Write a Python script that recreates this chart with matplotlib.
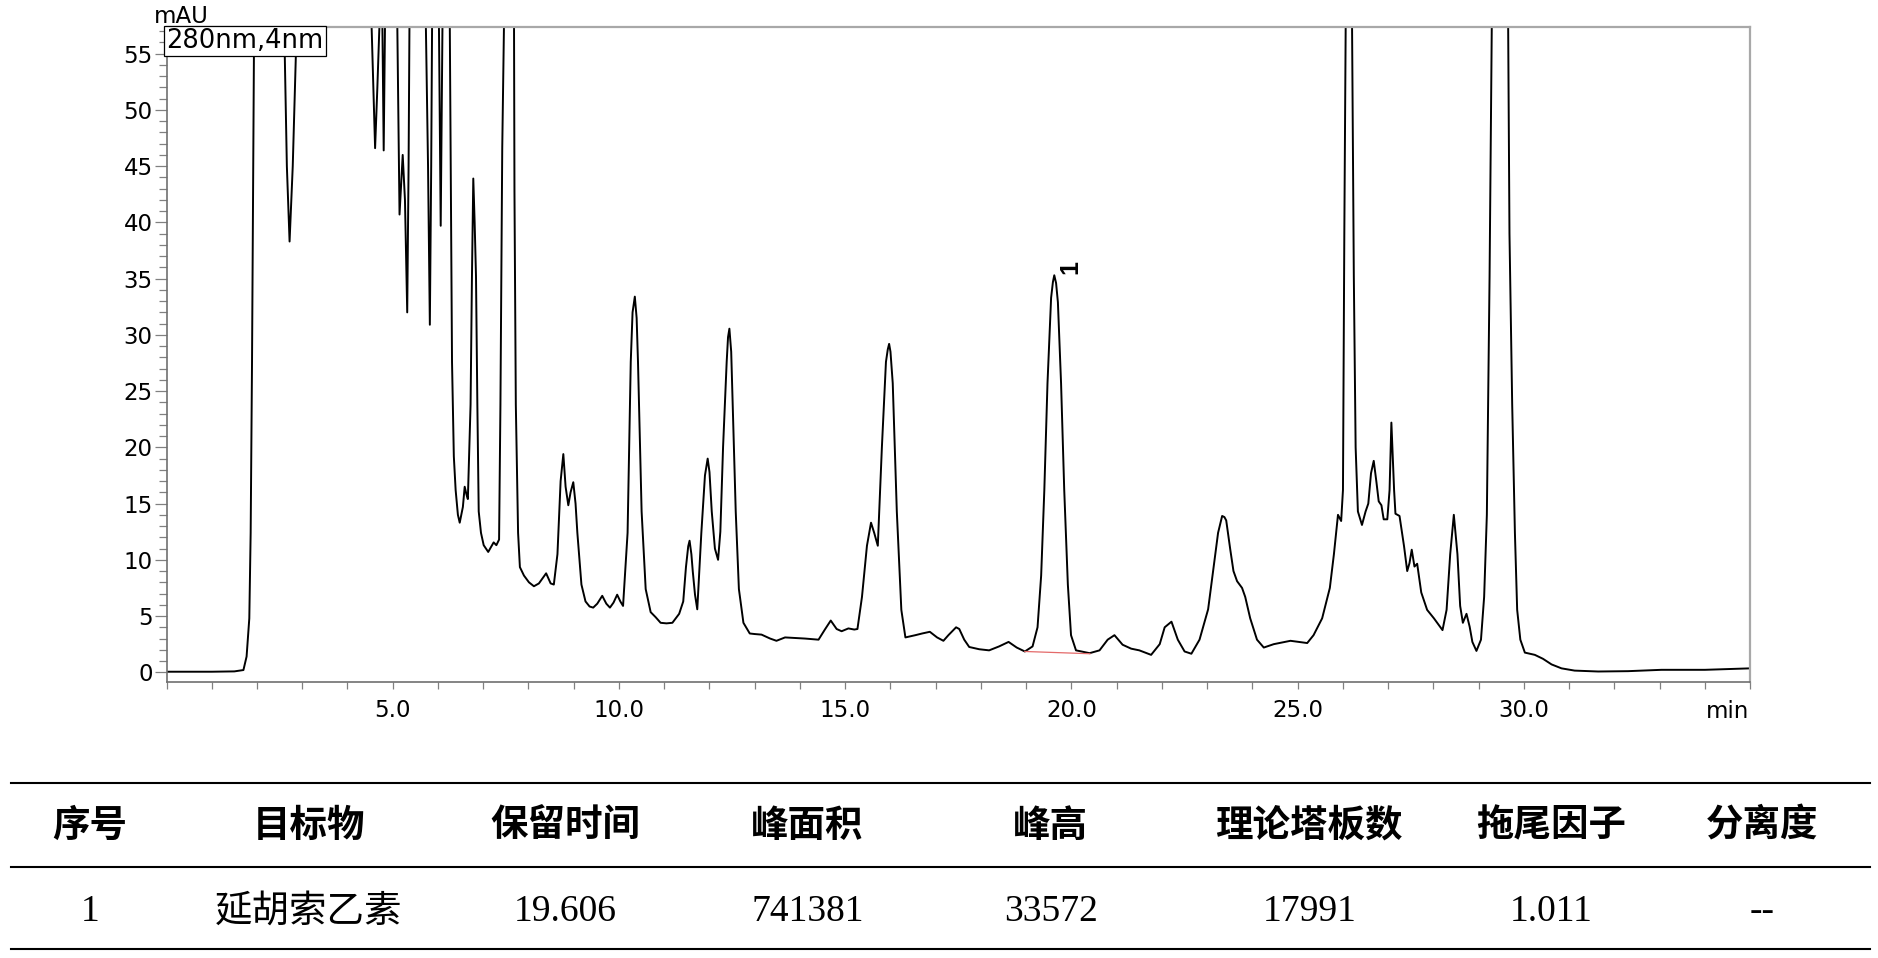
import numpy as np
import matplotlib
matplotlib.use("Agg")
from matplotlib import pyplot as plt
from matplotlib.lines import Line2D
from matplotlib.ticker import MultipleLocator, FormatStrFormatter

# chromatogram trace (min, mAU); values > 57 are off-scale peaks
time_min = [0.0, 1.0, 1.5, 1.70, 1.77, 1.83, 1.86, 1.89, 1.92, 1.94, 2.2, 2.55, 2.60, 2.66, 2.72,
            2.79, 2.86, 2.89, 3.5, 4.45, 4.53, 4.61, 4.66, 4.71, 4.74, 4.77, 4.80, 4.83, 4.95,
            5.10, 5.15, 5.22, 5.27, 5.32, 5.35, 5.37, 5.55, 5.73, 5.78, 5.82, 5.85, 5.87, 5.95,
            6.02, 6.06, 6.10, 6.18, 6.26, 6.31, 6.35, 6.39, 6.44, 6.48, 6.55, 6.59, 6.63, 6.66,
            6.72, 6.75, 6.78, 6.81, 6.84, 6.87, 6.90, 6.95, 7.01, 7.11, 7.18, 7.23, 7.29, 7.35,
            7.38, 7.42, 7.46, 7.57, 7.68, 7.69, 7.72, 7.77, 7.81, 7.90, 8.01, 8.12, 8.23, 8.39,
            8.49, 8.56, 8.64, 8.71, 8.77, 8.82, 8.88, 8.93, 8.99, 9.04, 9.08, 9.17, 9.26, 9.35,
            9.43, 9.52, 9.63, 9.72, 9.80, 9.88, 9.96, 10.03, 10.09, 10.19, 10.26, 10.30, 10.35,
            10.39, 10.42, 10.50, 10.59, 10.70, 10.81, 10.92, 11.05, 11.18, 11.33, 11.42, 11.48,
            11.53, 11.56, 11.60, 11.63, 11.68, 11.73, 11.82, 11.90, 11.96, 12.00, 12.05, 12.12,
            12.19, 12.24, 12.30, 12.38, 12.41, 12.44, 12.48, 12.50, 12.58, 12.65, 12.75, 12.89,
            13.00, 13.15, 13.34, 13.48, 13.67, 13.90, 14.11, 14.41, 14.55, 14.68, 14.81, 14.92,
            15.07, 15.20, 15.27, 15.37, 15.48, 15.57, 15.64, 15.72, 15.81, 15.90, 15.94, 15.97,
            16.00, 16.05, 16.14, 16.24, 16.33, 16.55, 16.70, 16.87, 17.03, 17.17, 17.28, 17.45,
            17.52, 17.63, 17.74, 17.96, 18.18, 18.40, 18.61, 18.79, 18.97, 19.14, 19.25, 19.33,
            19.40, 19.47, 19.55, 19.59, 19.62, 19.66, 19.70, 19.77, 19.84, 19.92, 19.99, 20.10,
            20.40, 20.62, 20.80, 20.95, 21.13, 21.32, 21.50, 21.76, 21.95, 22.06, 22.21, 22.35,
            22.50, 22.65, 22.83, 23.02, 23.14, 23.24, 23.33, 23.38, 23.42, 23.51, 23.58, 23.66,
            23.77, 23.84, 23.95, 24.10, 24.25, 24.47, 24.84, 25.21, 25.35, 25.54, 25.71, 25.80,
            25.89, 25.96, 26.00, 26.03, 26.06, 26.13, 26.20, 26.24, 26.28, 26.33, 26.42, 26.50,
            26.56, 26.62, 26.68, 26.74, 26.79, 26.85, 26.90, 26.98, 27.03, 27.07, 27.13, 27.16,
            27.25, 27.35, 27.42, 27.47, 27.52, 27.58, 27.64, 27.73, 27.86, 28.01, 28.20, 28.29,
            28.37, 28.45, 28.53, 28.59, 28.65, 28.73, 28.80, 28.86, 28.95, 29.05, 29.12, 29.18,
            29.24, 29.29, 29.47, 29.65, 29.68, 29.74, 29.80, 29.85, 29.92, 30.02, 30.24, 30.42,
            30.61, 30.83, 31.12, 31.64, 32.30, 33.04, 34.0, 35.0]
signal_mau = [0.05, 0.05, 0.08, 0.2, 1.4, 4.8, 12.4, 27.6, 46.6, 60, 90, 70, 57.8, 45, 38.3,
              45, 55, 58, 80, 70, 57.8, 46.6, 52, 58, 60, 58, 46.4, 58, 65,
              57.8, 40.7, 46.0, 42, 32.0, 45, 58, 70, 58, 45, 30.9, 45, 58, 62,
              58, 39.7, 58, 65, 58, 27.6, 19.2, 16.2, 14.0, 13.3, 14.7, 16.5, 15.8, 15.4,
              23.8, 35, 43.9, 40, 35.2, 23.8, 14.3, 12.4, 11.3, 10.7, 11.2, 11.55, 11.3, 11.8,
              23.8, 46.6, 58, 80, 58, 42.8, 23.8, 12.4, 9.35, 8.6, 8.0, 7.65, 7.9, 8.8,
              7.9, 7.8, 10.5, 17, 19.4, 16.5, 14.85, 16.0, 16.9, 15, 12.4, 7.8, 6.3, 5.85,
              5.75, 6.1, 6.8, 6.1, 5.75, 6.2, 6.9, 6.3, 5.9, 12.4, 27.6, 32, 33.4,
              31.5, 27.6, 14.3, 7.4, 5.35, 4.9, 4.4, 4.35, 4.4, 5.2, 6.3, 9.35,
              11.2, 11.7, 10.5, 9.0, 6.9, 5.6, 12.4, 17.5, 19.0, 17.8, 14.3, 11.0,
              10.0, 12.5, 20.0, 27.6, 29.8, 30.55, 28.5, 25.7, 14.3, 7.4, 4.4, 3.45,
              3.4, 3.35, 3.0, 2.8, 3.1, 3.05, 3.0, 2.9, 3.8, 4.6, 3.85, 3.65,
              3.9, 3.8, 3.85, 6.7, 11.25, 13.3, 12.4, 11.25, 20.0, 27.6, 28.7, 29.2,
              28.5, 25.7, 14.3, 5.55, 3.1, 3.3, 3.45, 3.6, 3.1, 2.8, 3.3, 4.0,
              3.85, 2.9, 2.25, 2.05, 1.95, 2.3, 2.7, 2.2, 1.85, 2.3, 4.0, 8.6,
              16.2, 25.7, 33.3, 34.7, 35.3, 34.6, 32.9, 25.7, 16.2, 7.8, 3.3, 1.95,
              1.7, 1.95, 2.9, 3.3, 2.45, 2.1, 1.95, 1.55, 2.5, 4.0, 4.5, 2.9,
              1.85, 1.65, 2.9, 5.6, 9.35, 12.4, 13.9, 13.8, 13.5, 10.9, 9.0, 8.1,
              7.5, 6.7, 4.8, 2.9, 2.2, 2.5, 2.8, 2.6, 3.3, 4.8, 7.5, 10.5,
              14.0, 13.45, 16.2, 39.0, 58, 90, 58, 35.2, 20.0, 14.3, 13.1, 14.3,
              15.0, 17.7, 18.8, 16.9, 15.2, 14.85, 13.6, 13.6, 16.2, 22.2, 16.2, 14.1,
              13.9, 11.2, 9.0, 9.7, 10.9, 9.4, 9.65, 7.1, 5.55, 4.8, 3.75, 5.55,
              10.5, 14.0, 10.5, 5.9, 4.4, 5.2, 4.05, 2.7, 1.9, 2.9, 6.7, 14,
              35.2, 58, 100, 58, 39.0, 23.8, 12.4, 5.55, 2.9, 1.75, 1.55, 1.2,
              0.7, 0.35, 0.15, 0.07, 0.1, 0.22, 0.22, 0.35]

# integration baseline of peak 1
baseline_t = [18.97, 20.41]
baseline_v = [1.85, 1.65]
peak_label_t = 19.62
peak_label_v = 35.3

# table under the chromatogram
col_headers = ["序号", "目标物", "保留时间", "峰面积", "峰高", "理论塔板数", "拖尾因子", "分离度"]
row_values = ["1", "延胡索乙素", "19.606", "741381", "33572", "17991", "1.011", "--"]

W, H = 1878, 958
fig = plt.figure(figsize=(W / 100, H / 100), dpi=100)
ax = fig.add_axes([166.5 / W, 1 - 682.3 / H, (1750.2 - 166.5) / W, (682.3 - 26.7) / H])

ax.plot(time_min, signal_mau, color="black", lw=1.4, solid_joinstyle="round")
ax.plot(baseline_t, baseline_v, color="#e46a6a", lw=0.9)
ax.set_xlim(0, 35)
ax.set_ylim(-0.89, 57.4)

ax.xaxis.set_minor_locator(MultipleLocator(1))
ax.xaxis.set_major_formatter(FormatStrFormatter("%.1f"))
ax.set_xticks([5, 10, 15, 20, 25, 30])
ax.yaxis.set_major_locator(MultipleLocator(5))
ax.yaxis.set_minor_locator(MultipleLocator(1))

ax.tick_params(axis="x", which="both", direction="out", length=5, width=0.9, color="#808080",
               labelsize=16.5, pad=7)
ax.tick_params(axis="y", which="major", direction="out", length=9, width=0.9, color="#808080",
               labelsize=16.5, pad=1)
ax.tick_params(axis="y", which="minor", direction="out", length=6, width=0.9, color="#808080")

for side in ["left", "bottom"]:
    ax.spines[side].set_color("#707070")
    ax.spines[side].set_linewidth(1.2)
for side in ["top", "right"]:
    ax.spines[side].set_color("#a8a8a8")
    ax.spines[side].set_linewidth(1.6)

ax.annotate("1", xy=(peak_label_t, peak_label_v), xytext=(16, 8), textcoords="offset pixels",
            rotation=90, ha="center", va="center", fontsize=18, fontweight="bold",
            family="Liberation Sans")

fig.text(154 / W, 1 - 23 / H, "mAU", fontsize=16.5, ha="left", va="baseline")
fig.text(1749 / W, 1 - 712 / H, "min", fontsize=16.5, ha="right", va="center")
ax.text(0.0, 0.998, "280nm,4nm", transform=ax.transAxes, fontsize=18.5, ha="left", va="top",
        bbox=dict(boxstyle="square,pad=0.08", fc="white", ec="black", lw=0.9))

# table rules
for y in [783.3, 866.7, 949]:
    fig.add_artist(Line2D([10.8 / W, 1870 / W], [1 - y / H, 1 - y / H], color="black", lw=1.5))

col_x = [90, 308.7, 565, 807.5, 1050.6, 1309.3, 1551, 1762]
for cx, head, val in zip(col_x, col_headers, row_values):
    fig.text(cx / W, 1 - 825 / H, head, fontsize=27, fontweight="bold", ha="center", va="center",
             family=["Noto Sans CJK SC", "DejaVu Sans"])
    fig.text(cx / W, 1 - 911.7 / H, val, fontsize=27, ha="center", va="center",
             family=["Liberation Serif", "Noto Sans CJK SC"])

fig.savefig("out.png", dpi=100)
